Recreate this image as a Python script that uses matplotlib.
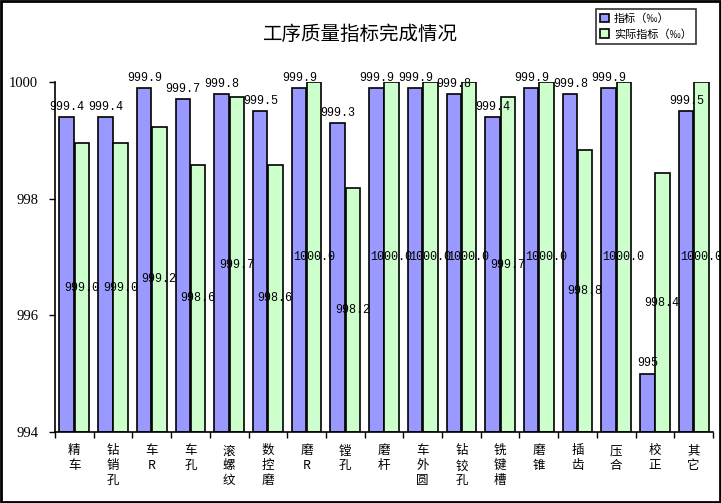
import numpy as np
import matplotlib.pyplot as plt
from matplotlib.patches import Rectangle

plt.rcParams['font.family'] = ['Noto Sans CJK SC', 'DejaVu Sans']

categories = ['精车', '钻销孔', '车R', '车孔', '滚螺纹', '数控磨', '磨R', '镗孔', '磨杆',
              '车外圆', '钻铰孔', '铣键槽', '磨锥', '插齿', '压合', '校正', '其它']
target = [999.4, 999.4, 999.9, 999.7, 999.8, 999.5, 999.9, 999.3, 999.9,
          999.9, 999.8, 999.4, 999.9, 999.8, 999.9, 995, 999.5]
actual = [998.95, 998.95, 999.23, 998.58, 999.74, 998.58, 1000.0, 998.18, 1000.0,
          1000.0, 1000.0, 999.74, 1000.0, 998.83, 1000.0, 998.44, 1000.0]
yticks = [994, 996, 998, 1000]

base = 994
x = np.arange(len(categories))
w = 0.375

fig = plt.figure(figsize=(7.21, 5.03), dpi=100)
ax = fig.add_axes([55/721, 71/503, 658/721, 350/503])

ax.bar(x - w/2 - 0.01, np.array(target) - base, w, bottom=base,
       color='#9999FF', edgecolor='black', linewidth=1.2, label='指标（‰）')
ax.bar(x + w/2 + 0.01, np.array(actual) - base, w, bottom=base,
       color='#CCFFCC', edgecolor='black', linewidth=1.2, label='实际指标（‰）')

num_font = dict(family='Liberation Mono', fontsize=8.5)
for i in x:
    ax.annotate('%g' % target[i], (i - w/2, target[i]), xytext=(0, 3),
                textcoords='offset points', ha='center', va='bottom',
                zorder=5, **num_font)
    ax.text(i + w/2, (actual[i] + base) / 2, '%.1f' % actual[i],
            ha='center', va='center', zorder=5, **num_font)

ax.set_xlim(-0.5, len(categories) - 0.5)
ax.set_ylim(base, 1000)
ax.set_yticks(yticks)
ax.set_yticklabels([str(t) for t in yticks], family='Liberation Serif', fontsize=10.5)

ax.set_xticks(np.arange(len(categories) + 1) - 0.5)
ax.set_xticklabels([])
ax.tick_params(axis='x', direction='out', length=4, width=1)
ax.tick_params(axis='y', direction='out', length=4, width=1, pad=8)
for i, c in enumerate(categories):
    ax.text(i, -0.035, '\n'.join(c), transform=ax.get_xaxis_transform(),
            ha='center', va='top', fontsize=9, linespacing=1.2)

for s in ['top', 'right']:
    ax.spines[s].set_visible(False)
for s in ['left', 'bottom']:
    ax.spines[s].set_linewidth(1.2)

fig.text(0.5, 0.932, '工序质量指标完成情况', ha='center', va='center', fontsize=14)

leg = ax.legend(loc='upper left', bbox_to_anchor=(596/721, 494/503), bbox_transform=fig.transFigure,
                fontsize=8, frameon=True, fancybox=False, edgecolor='black',
                handlelength=0.8, handleheight=0.8, handletextpad=0.4,
                borderpad=0.4, labelspacing=0.45, borderaxespad=0)
leg.get_frame().set_linewidth(1.2)

fig.patches.append(Rectangle((0.001, 0.002), 0.997, 0.996, transform=fig.transFigure,
                             fill=False, edgecolor='black', linewidth=2))

fig.savefig('out.png', dpi=100)
